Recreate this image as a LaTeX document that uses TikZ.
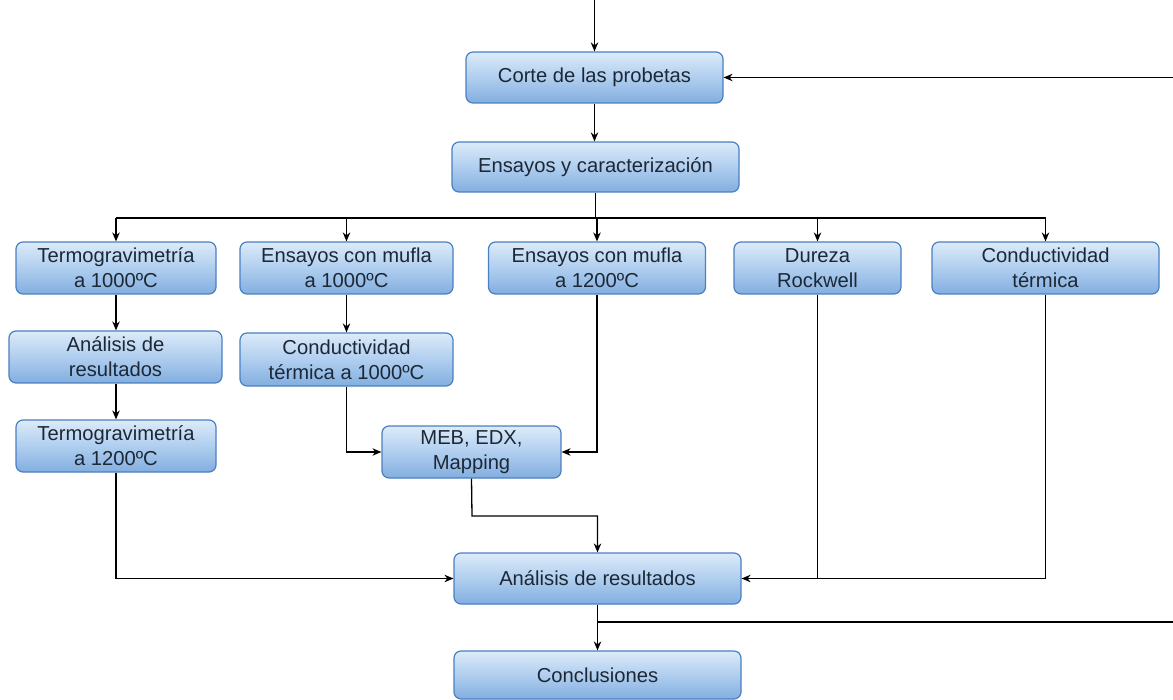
\documentclass[tikz,border=0pt]{standalone}
\usepackage{fontspec}
\setmainfont{Liberation Sans}
\usetikzlibrary{arrows.meta}
\definecolor{boxtop}{HTML}{DCEBF9}
\definecolor{boxmid}{HTML}{B0CEEF}
\definecolor{boxbot}{HTML}{82AEDF}
\definecolor{boxline}{HTML}{4A80C2}
\definecolor{txt}{HTML}{1C2836}
\begin{document}
\begin{tikzpicture}[x=1pt,y=-1pt,
  box/.style={draw=boxline, line width=1.2pt, rounded corners=7pt,
    top color=boxtop, bottom color=boxbot, middle color=boxmid,
    align=center, text=txt, inner sep=0pt,
    font=\fontsize{20.2}{25}\selectfont},
  sz/.style 2 args={minimum width=#1pt, minimum height=#2pt},
  arr/.style={-{Stealth[length=9pt,width=7.5pt]}, line width=1.3pt},
  ln/.style={line width=1.3pt}]
\useasboundingbox (0,0) rectangle (1173,700);
% nodes
\node[box, sz={257}{51}] (corte) at (594.5,77.5) {Corte de las probetas};
\node[box, sz={287}{50}] (ens) at (595.5,167) {Ensayos y caracterización};
\node[box, sz={200}{52}] (tg1) at (116,268) {Termogravimetría\\a 1000ºC};
\node[box, sz={213}{52}] (mf1) at (346.5,268) {Ensayos con mufla\\a 1000ºC};
\node[box, sz={217}{52}] (mf2) at (597,268) {Ensayos con mufla\\a 1200ºC};
\node[box, sz={167}{52}] (dr) at (817.5,268) {Dureza\\Rockwell};
\node[box, sz={227}{52}] (ct) at (1045.5,268) {Conductividad\\térmica};
\node[box, sz={213}{52}] (an1) at (115.5,357) {Análisis de\\resultados};
\node[box, sz={213}{53}] (cd1) at (346.5,359.5) {Conductividad\\térmica a 1000ºC};
\node[box, sz={200}{52}] (tg2) at (116,446) {Termogravimetría\\a 1200ºC};
\node[box, sz={179}{52}] (meb) at (471.5,452) {MEB, EDX,\\Mapping};
\node[box, sz={287}{51}] (an2) at (597.5,578.5) {Análisis de resultados};
\node[box, sz={287}{48}] (con) at (597.5,675) {Conclusiones};
% free ends
\coordinate (top) at (594.5,0);
\coordinate (rin) at (1173,77.5);
\coordinate (bus) at (595,218);
\coordinate (mebk) at (472,516);
\coordinate (rout) at (1173,622);
% connectors
\draw[arr] (top) -- (corte.north);
\draw[arr] (rin) -- (corte.east);
\draw[arr] (corte.south) -- (corte.south |- ens.north);
\draw[ln] (ens.south) -- (ens.south |- bus);
\draw[ln] (tg1.north |- bus) -- (ct.north |- bus);
\foreach \n in {tg1,mf1,mf2,dr,ct} \draw[arr] (\n.north |- bus) -- (\n.north);
\draw[arr] (tg1.south) -- (tg1.south |- an1.north);
\draw[arr] (an1.south -| tg2.north) -- (tg2.north);
\draw[arr] (tg2.south) |- (an2.west);
\draw[arr] (mf1.south) -- (cd1.north);
\draw[arr] (cd1.south) |- (meb.west);
\draw[arr] (mf2.south) |- (meb.east);
\draw[arr] (meb.south) -- (mebk) -| (an2.north);
\draw[arr] (dr.south) |- (an2.east);
\draw[ln] (ct.south) |- (an2.east);
\draw[arr] (an2.south) -- (con.north);
\draw[ln] (an2.south |- rout) -- (rout);
\end{tikzpicture}
\end{document}
